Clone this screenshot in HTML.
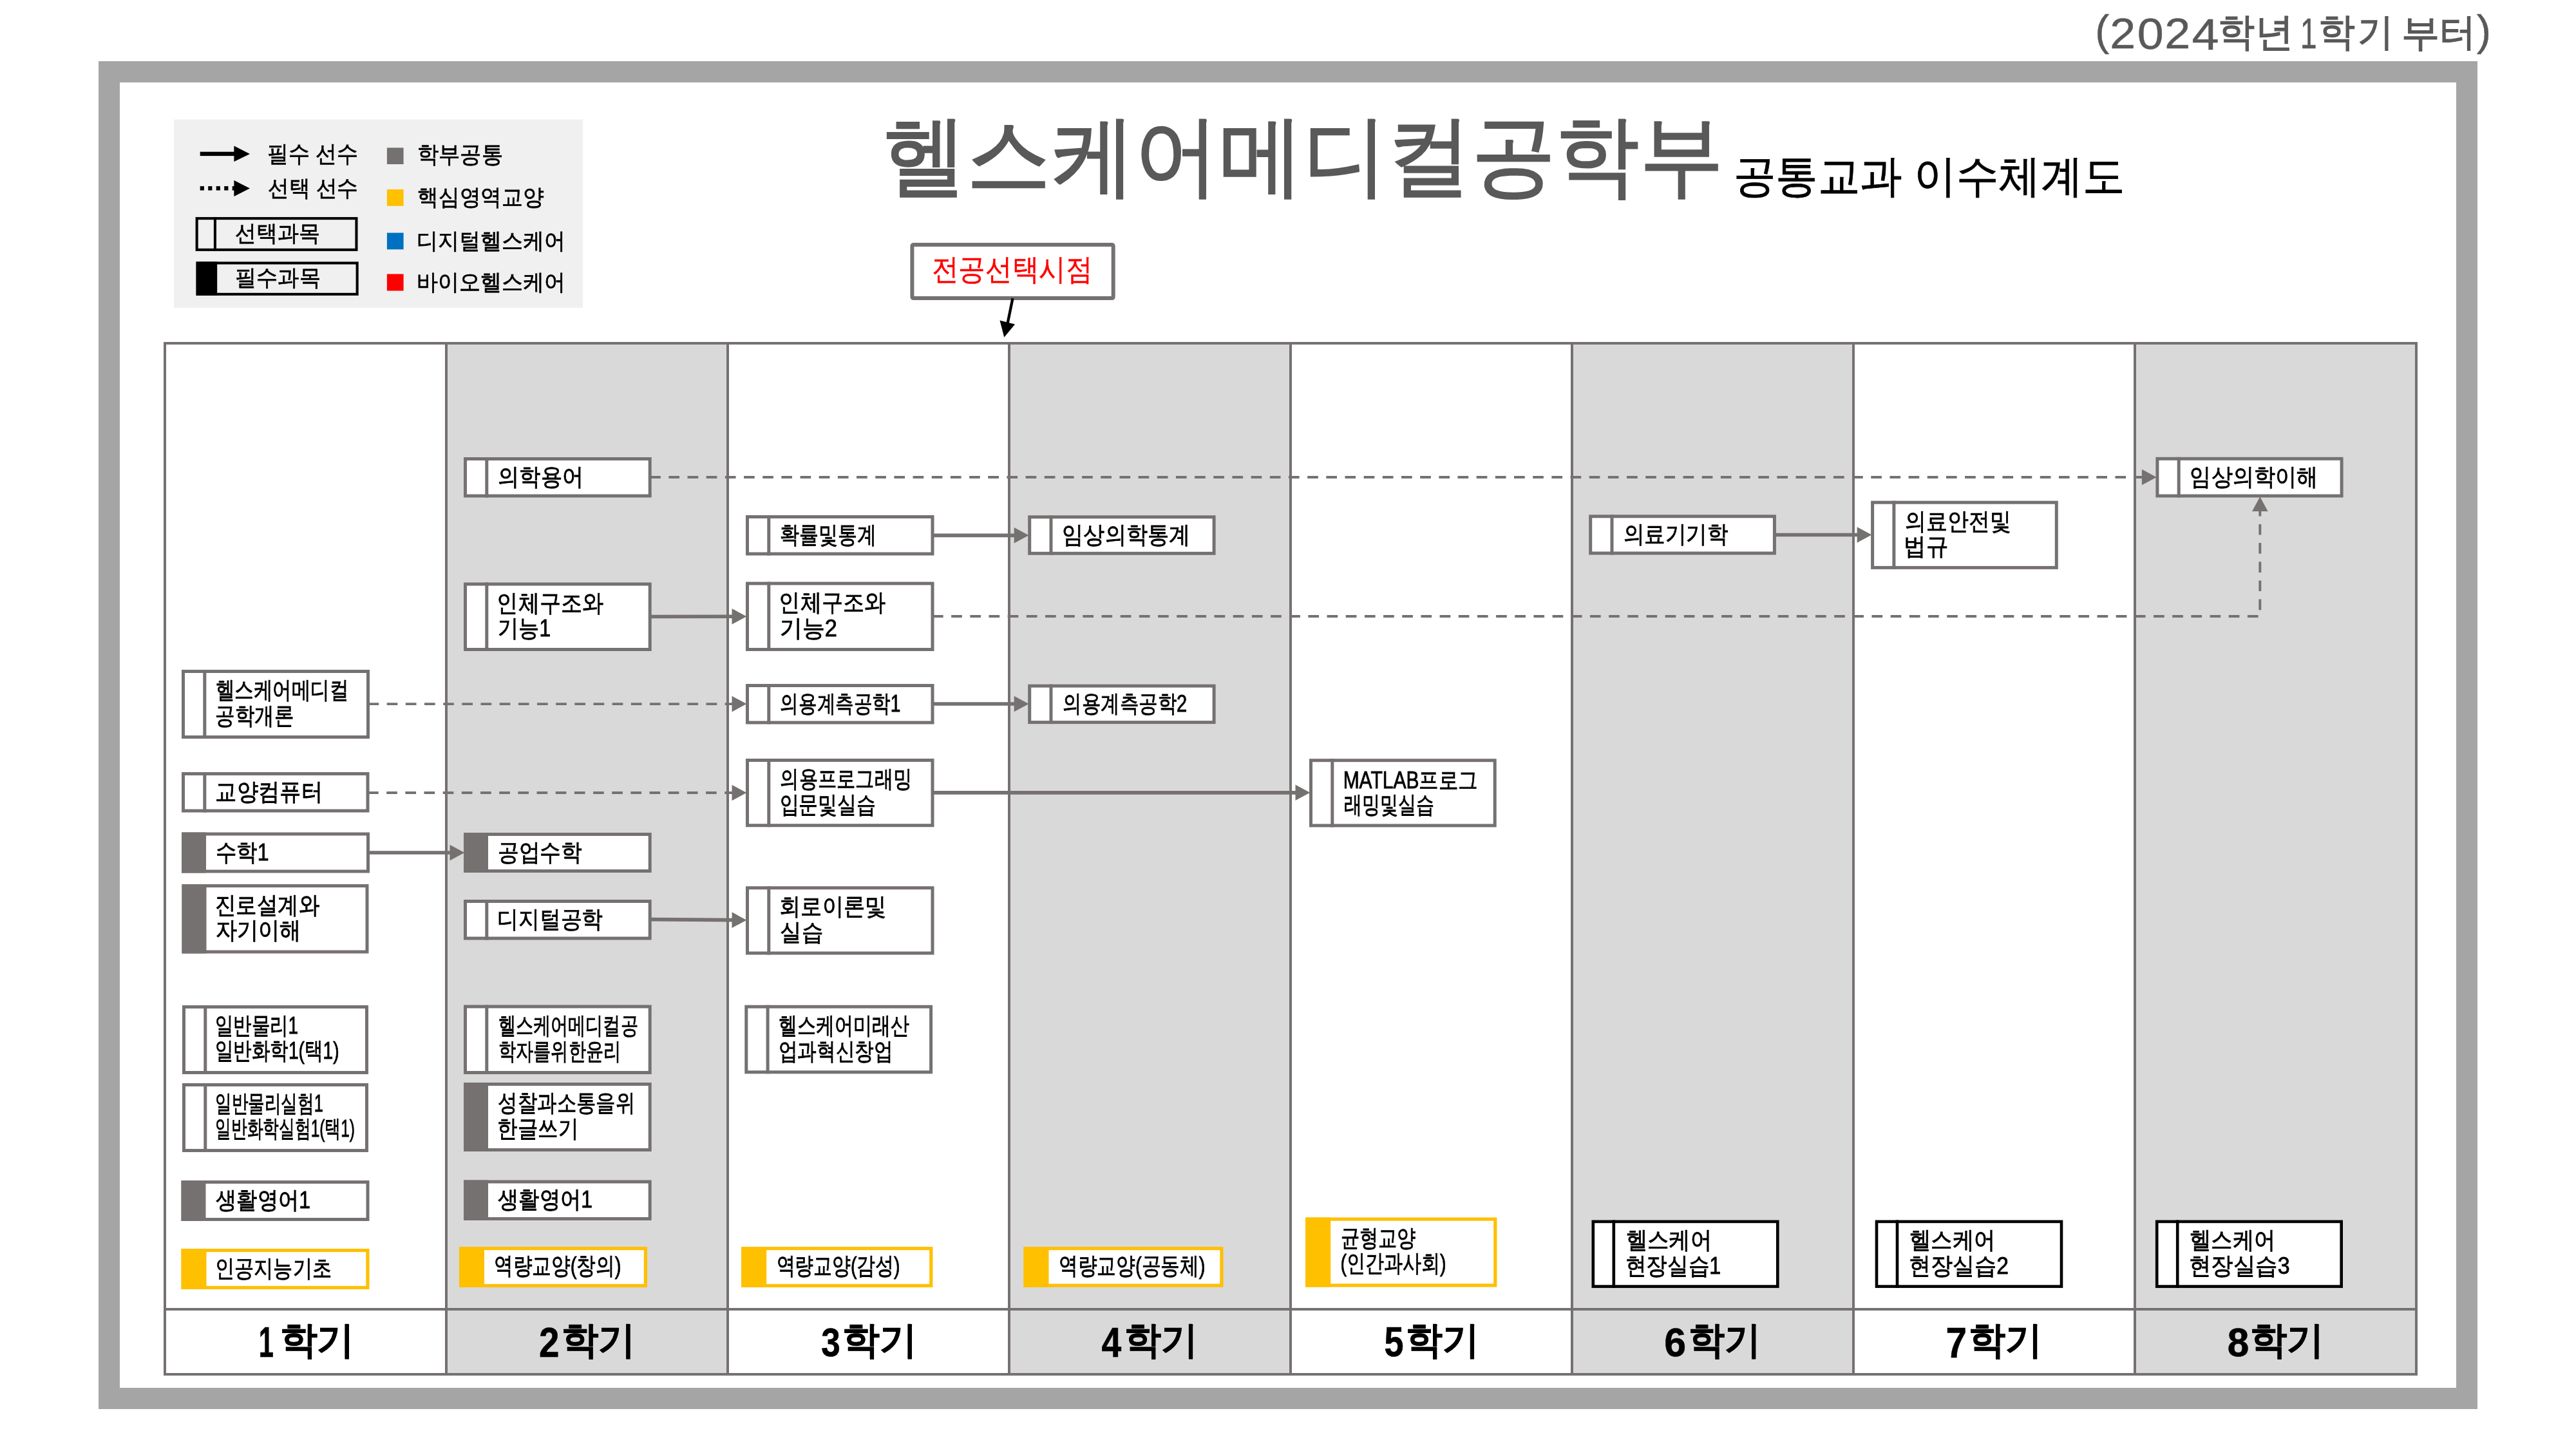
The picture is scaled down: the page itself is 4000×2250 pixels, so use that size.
<!DOCTYPE html><html lang="ko"><head><meta charset="utf-8"><title>헬스케어메디컬공학부 공통교과 이수체계도</title>
<style>html,body{margin:0;padding:0;background:#fff}body{width:4000px;height:2250px;overflow:hidden;font-family:"Liberation Sans",sans-serif}svg{display:block;will-change:transform;font-family:"Liberation Sans",sans-serif}</style></head><body>
<svg width="4000" height="2250" viewBox="0 0 4000 2250">
<path d="M153 95H3847V2188H153Z M186 128V2155H3814V128Z" fill="#a5a5a5" fill-rule="evenodd"/>
<rect x="270" y="185.5" width="635" height="292.5" fill="#f0f0f0"/>
<rect x="693" y="533" width="437" height="1601" fill="#d9d9d9"/>
<rect x="1567" y="533" width="437" height="1601" fill="#d9d9d9"/>
<rect x="2441" y="533" width="437" height="1601" fill="#d9d9d9"/>
<rect x="3315" y="533" width="437" height="1601" fill="#d9d9d9"/>
<rect x="254" y="531" width="4" height="1605" fill="#767171"/>
<rect x="691" y="531" width="4" height="1605" fill="#767171"/>
<rect x="1128" y="531" width="4" height="1605" fill="#767171"/>
<rect x="1565" y="531" width="4" height="1605" fill="#767171"/>
<rect x="2002" y="531" width="4" height="1605" fill="#767171"/>
<rect x="2439" y="531" width="4" height="1605" fill="#767171"/>
<rect x="2876" y="531" width="4" height="1605" fill="#767171"/>
<rect x="3313" y="531" width="4" height="1605" fill="#767171"/>
<rect x="3750" y="531" width="4" height="1605" fill="#767171"/>
<rect x="254" y="531" width="3500" height="4" fill="#767171"/>
<rect x="254" y="2031" width="3500" height="4" fill="#767171"/>
<rect x="254" y="2132" width="3500" height="4" fill="#767171"/>
<path d="M1009.20 741.00 L3327.90 741.00" fill="none" stroke="#767171" stroke-width="3.9" stroke-dasharray="16.67 12.5"/>
<path d="M3348.70 741.00 L3325.90 753.30 L3325.90 728.70Z" fill="#767171"/>
<path d="M1448.00 831.30 L1576.70 831.30" fill="none" stroke="#767171" stroke-width="5.7"/>
<path d="M1597.50 831.30 L1574.70 843.60 L1574.70 819.00Z" fill="#767171"/>
<path d="M1009.20 957.50 L1138.50 957.24" fill="none" stroke="#767171" stroke-width="5.7"/>
<path d="M1159.30 957.20 L1136.52 969.54 L1136.48 944.94Z" fill="#767171"/>
<path d="M1448.00 957.00 L3509.30 957.00 L3509.30 792.00" fill="none" stroke="#767171" stroke-width="3.9" stroke-dasharray="16.67 12.5"/>
<path d="M3509.30 771.20 L3521.60 794.00 L3497.00 794.00Z" fill="#767171"/>
<path d="M571.50 1093.10 L1138.50 1093.10" fill="none" stroke="#767171" stroke-width="3.9" stroke-dasharray="16.67 12.5"/>
<path d="M1159.30 1093.10 L1136.50 1105.40 L1136.50 1080.80Z" fill="#767171"/>
<path d="M1448.00 1093.00 L1576.70 1093.00" fill="none" stroke="#767171" stroke-width="5.7"/>
<path d="M1597.50 1093.00 L1574.70 1105.30 L1574.70 1080.70Z" fill="#767171"/>
<path d="M571.00 1231.00 L1138.50 1231.00" fill="none" stroke="#767171" stroke-width="3.9" stroke-dasharray="16.67 12.5"/>
<path d="M1159.30 1231.00 L1136.50 1243.30 L1136.50 1218.70Z" fill="#767171"/>
<path d="M1448.00 1230.80 L2013.50 1230.80" fill="none" stroke="#767171" stroke-width="5.7"/>
<path d="M2034.30 1230.80 L2011.50 1243.10 L2011.50 1218.50Z" fill="#767171"/>
<path d="M571.50 1324.00 L700.50 1324.00" fill="none" stroke="#767171" stroke-width="5.7"/>
<path d="M721.30 1324.00 L698.50 1336.30 L698.50 1311.70Z" fill="#767171"/>
<path d="M1009.20 1427.70 L1138.50 1428.66" fill="none" stroke="#767171" stroke-width="5.7"/>
<path d="M1159.30 1428.81 L1136.41 1440.94 L1136.59 1416.34Z" fill="#767171"/>
<path d="M2755.40 830.50 L2885.60 830.50" fill="none" stroke="#767171" stroke-width="5.7"/>
<path d="M2906.40 830.50 L2883.60 842.80 L2883.60 818.20Z" fill="#767171"/>
<rect x="284.50" y="1042.50" width="287.00" height="102.00" fill="#fff" stroke="#767171" stroke-width="5"/>
<rect x="315.30" y="1040.00" width="5" height="107.00" fill="#767171"/>
<rect x="284.50" y="1201.50" width="286.50" height="57.50" fill="#fff" stroke="#767171" stroke-width="5"/>
<rect x="315.30" y="1199.00" width="5" height="62.50" fill="#767171"/>
<rect x="284.50" y="1295.00" width="287.00" height="58.00" fill="#fff" stroke="#767171" stroke-width="5"/>
<rect x="282.00" y="1292.50" width="38" height="63.00" fill="#767171"/>
<rect x="285.00" y="1375.50" width="285.00" height="102.50" fill="#fff" stroke="#767171" stroke-width="5"/>
<rect x="282.50" y="1373.00" width="38" height="107.50" fill="#767171"/>
<rect x="285.50" y="1563.50" width="284.00" height="102.00" fill="#fff" stroke="#767171" stroke-width="5"/>
<rect x="316.30" y="1561.00" width="5" height="107.00" fill="#767171"/>
<rect x="285.50" y="1684.50" width="284.00" height="102.00" fill="#fff" stroke="#767171" stroke-width="5"/>
<rect x="316.30" y="1682.00" width="5" height="107.00" fill="#767171"/>
<rect x="284.00" y="1835.50" width="287.00" height="58.00" fill="#fff" stroke="#767171" stroke-width="5"/>
<rect x="281.50" y="1833.00" width="38" height="63.00" fill="#767171"/>
<rect x="284.10" y="1941.60" width="286.80" height="57.80" fill="#fff" stroke="#ffc000" stroke-width="5.2"/>
<rect x="281.50" y="1939.00" width="39" height="63.00" fill="#ffc000"/>
<rect x="722.50" y="712.50" width="286.70" height="57.50" fill="#fff" stroke="#767171" stroke-width="5"/>
<rect x="753.30" y="710.00" width="5" height="62.50" fill="#767171"/>
<rect x="722.50" y="907.00" width="286.70" height="101.50" fill="#fff" stroke="#767171" stroke-width="5"/>
<rect x="753.30" y="904.50" width="5" height="106.50" fill="#767171"/>
<rect x="722.50" y="1295.50" width="286.70" height="57.00" fill="#fff" stroke="#767171" stroke-width="5"/>
<rect x="720.00" y="1293.00" width="38" height="62.00" fill="#767171"/>
<rect x="722.50" y="1399.50" width="286.70" height="57.50" fill="#fff" stroke="#767171" stroke-width="5"/>
<rect x="753.30" y="1397.00" width="5" height="62.50" fill="#767171"/>
<rect x="722.50" y="1563.00" width="286.70" height="102.50" fill="#fff" stroke="#767171" stroke-width="5"/>
<rect x="753.30" y="1560.50" width="5" height="107.50" fill="#767171"/>
<rect x="722.50" y="1683.50" width="286.70" height="102.00" fill="#fff" stroke="#767171" stroke-width="5"/>
<rect x="720.00" y="1681.00" width="38" height="107.00" fill="#767171"/>
<rect x="722.50" y="1835.00" width="286.70" height="57.50" fill="#fff" stroke="#767171" stroke-width="5"/>
<rect x="720.00" y="1832.50" width="38" height="62.50" fill="#767171"/>
<rect x="715.60" y="1938.60" width="286.80" height="57.80" fill="#fff" stroke="#ffc000" stroke-width="5.2"/>
<rect x="713.00" y="1936.00" width="39" height="63.00" fill="#ffc000"/>
<rect x="1160.50" y="802.50" width="287.50" height="57.50" fill="#fff" stroke="#767171" stroke-width="5"/>
<rect x="1191.30" y="800.00" width="5" height="62.50" fill="#767171"/>
<rect x="1160.50" y="906.00" width="287.50" height="102.50" fill="#fff" stroke="#767171" stroke-width="5"/>
<rect x="1191.30" y="903.50" width="5" height="107.50" fill="#767171"/>
<rect x="1160.50" y="1064.50" width="287.50" height="57.50" fill="#fff" stroke="#767171" stroke-width="5"/>
<rect x="1191.30" y="1062.00" width="5" height="62.50" fill="#767171"/>
<rect x="1160.50" y="1180.50" width="287.50" height="101.20" fill="#fff" stroke="#767171" stroke-width="5"/>
<rect x="1191.30" y="1178.00" width="5" height="106.20" fill="#767171"/>
<rect x="1160.50" y="1378.70" width="287.50" height="101.30" fill="#fff" stroke="#767171" stroke-width="5"/>
<rect x="1191.30" y="1376.20" width="5" height="106.30" fill="#767171"/>
<rect x="1158.80" y="1563.20" width="286.80" height="101.60" fill="#fff" stroke="#767171" stroke-width="5"/>
<rect x="1189.60" y="1560.70" width="5" height="106.60" fill="#767171"/>
<rect x="1153.80" y="1938.60" width="292.00" height="57.80" fill="#fff" stroke="#ffc000" stroke-width="5.2"/>
<rect x="1151.20" y="1936.00" width="39" height="63.00" fill="#ffc000"/>
<rect x="1598.70" y="802.80" width="286.40" height="56.50" fill="#fff" stroke="#767171" stroke-width="5"/>
<rect x="1629.50" y="800.30" width="5" height="61.50" fill="#767171"/>
<rect x="1598.70" y="1065.10" width="286.40" height="56.50" fill="#fff" stroke="#767171" stroke-width="5"/>
<rect x="1629.50" y="1062.60" width="5" height="61.50" fill="#767171"/>
<rect x="1592.10" y="1938.60" width="304.80" height="57.50" fill="#fff" stroke="#ffc000" stroke-width="5.2"/>
<rect x="1589.50" y="1936.00" width="39" height="62.70" fill="#ffc000"/>
<rect x="2035.50" y="1180.70" width="285.70" height="101.20" fill="#fff" stroke="#767171" stroke-width="5"/>
<rect x="2066.30" y="1178.20" width="5" height="106.20" fill="#767171"/>
<rect x="2029.80" y="1893.10" width="292.00" height="102.80" fill="#fff" stroke="#ffc000" stroke-width="5.2"/>
<rect x="2027.20" y="1890.50" width="39" height="108.00" fill="#ffc000"/>
<rect x="2469.70" y="801.80" width="285.70" height="57.20" fill="#fff" stroke="#767171" stroke-width="5"/>
<rect x="2500.50" y="799.30" width="5" height="62.20" fill="#767171"/>
<rect x="2473.80" y="1896.90" width="286.50" height="100.70" fill="#fff" stroke="#000" stroke-width="4.6"/>
<rect x="2503.50" y="1894.60" width="4.6" height="105.30" fill="#000"/>
<rect x="2907.60" y="780.20" width="285.70" height="101.20" fill="#fff" stroke="#767171" stroke-width="5"/>
<rect x="2938.40" y="777.70" width="5" height="106.20" fill="#767171"/>
<rect x="2914.00" y="1896.90" width="287.00" height="100.70" fill="#fff" stroke="#000" stroke-width="4.6"/>
<rect x="2943.70" y="1894.60" width="4.6" height="105.30" fill="#000"/>
<rect x="3349.90" y="712.30" width="286.20" height="57.70" fill="#fff" stroke="#767171" stroke-width="5"/>
<rect x="3380.70" y="709.80" width="5" height="62.70" fill="#767171"/>
<rect x="3349.20" y="1896.90" width="286.50" height="100.70" fill="#fff" stroke="#000" stroke-width="4.6"/>
<rect x="3378.90" y="1894.60" width="4.6" height="105.30" fill="#000"/>
<rect x="310.7" y="235.7" width="54" height="6.4" fill="#000"/>
<path d="M388 238.9 L363.4 226.6 L363.4 251.1Z" fill="#000"/>
<rect x="310.70" y="289.1" width="6.2" height="6.5" fill="#000"/>
<rect x="323.20" y="289.1" width="6.2" height="6.5" fill="#000"/>
<rect x="335.70" y="289.1" width="6.2" height="6.5" fill="#000"/>
<rect x="348.20" y="289.1" width="6.2" height="6.5" fill="#000"/>
<rect x="360.70" y="289.1" width="6.2" height="6.5" fill="#000"/>
<path d="M388 292.4 L363.4 280 L363.4 304.9Z" fill="#000"/>
<rect x="305.65" y="339.15" width="247.8" height="48.7" fill="none" stroke="#000" stroke-width="4.1"/>
<rect x="331.9" y="337.1" width="4.1" height="52.8" fill="#000"/>
<rect x="306.65" y="408.45" width="248" height="48.4" fill="none" stroke="#000" stroke-width="4.1"/>
<rect x="304.6" y="406.4" width="32.6" height="52.5" fill="#000"/>
<rect x="600.9" y="229.4" width="25.7" height="25.6" fill="#767171"/>
<rect x="600.9" y="294.1" width="25.7" height="25.7" fill="#ffc000"/>
<rect x="600.9" y="361.5" width="25.7" height="25.8" fill="#0070c0"/>
<rect x="600.9" y="425.5" width="25.7" height="26.0" fill="#ff0000"/>
<rect x="1416.4" y="380.1" width="312.3" height="83" rx="2" fill="#fff" stroke="#767171" stroke-width="6"/>
<path d="M1572.5 463.3 L1564 505" stroke="#000" stroke-width="4.3" fill="none"/>
<path d="M1559.3 523.8 L1552.5 497.4 L1576 503.5Z" fill="#000"/>
<text x="334.5" y="1084.3" font-size="36.5" fill="#000" stroke="#000" stroke-width="0.85" textLength="206.79" lengthAdjust="spacingAndGlyphs">헬스케어메디컬</text>
<text x="334.45" y="1124.1" font-size="36.5" fill="#000" stroke="#000" stroke-width="0.85" textLength="121.89" lengthAdjust="spacingAndGlyphs">공학개론</text>
<text x="334.3" y="1241.95" font-size="36.5" fill="#000" stroke="#000" stroke-width="0.85" textLength="166.6" lengthAdjust="spacingAndGlyphs">교양컴퓨터</text>
<text x="334.75" y="1335.7" font-size="36.5" fill="#000" stroke="#000" stroke-width="0.85" textLength="82.7" lengthAdjust="spacingAndGlyphs">수학1</text>
<text x="333.74" y="1417.55" font-size="36.5" fill="#000" stroke="#000" stroke-width="0.85" textLength="162.66" lengthAdjust="spacingAndGlyphs">진로설계와</text>
<text x="334.6" y="1457.35" font-size="36.5" fill="#000" stroke="#000" stroke-width="0.85" textLength="132.78" lengthAdjust="spacingAndGlyphs">자기이해</text>
<text x="333.8" y="1605.3" font-size="36.5" fill="#000" stroke="#000" stroke-width="0.85" textLength="129.31" lengthAdjust="spacingAndGlyphs">일반물리1</text>
<text x="333.79" y="1643.6" font-size="36.5" fill="#000" stroke="#000" stroke-width="0.85" textLength="192.8" lengthAdjust="spacingAndGlyphs">일반화학1(택1)</text>
<text x="334.02" y="1726.3" font-size="36.5" fill="#000" stroke="#000" stroke-width="0.85" textLength="167.79" lengthAdjust="spacingAndGlyphs">일반물리실험1</text>
<text x="334.09" y="1764.6" font-size="36.5" fill="#000" stroke="#000" stroke-width="0.85" textLength="216.9" lengthAdjust="spacingAndGlyphs">일반화학실험1(택1)</text>
<text x="335.13" y="1876.2" font-size="36.5" fill="#000" stroke="#000" stroke-width="0.85" textLength="146.72" lengthAdjust="spacingAndGlyphs">생활영어1</text>
<text x="334.04" y="1982.2" font-size="36.5" fill="#000" stroke="#000" stroke-width="0.85" textLength="180.79" lengthAdjust="spacingAndGlyphs">인공지능기초</text>
<text x="773.2" y="752.95" font-size="36.5" fill="#000" stroke="#000" stroke-width="0.85" textLength="132.99" lengthAdjust="spacingAndGlyphs">의학용어</text>
<text x="771.42" y="948.55" font-size="36.5" fill="#000" stroke="#000" stroke-width="0.85" textLength="165.68" lengthAdjust="spacingAndGlyphs">인체구조와</text>
<text x="773.26" y="988.35" font-size="36.5" fill="#000" stroke="#000" stroke-width="0.85" textLength="81.88" lengthAdjust="spacingAndGlyphs">기능1</text>
<text x="773.03" y="1335.7" font-size="36.5" fill="#000" stroke="#000" stroke-width="0.85" textLength="130.77" lengthAdjust="spacingAndGlyphs">공업수학</text>
<text x="772.14" y="1439.95" font-size="36.5" fill="#000" stroke="#000" stroke-width="0.85" textLength="164.06" lengthAdjust="spacingAndGlyphs">디지털공학</text>
<text x="773.53" y="1605.05" font-size="36.5" fill="#000" stroke="#000" stroke-width="0.85" textLength="217.24" lengthAdjust="spacingAndGlyphs">헬스케어메디컬공</text>
<text x="773.53" y="1644.85" font-size="36.5" fill="#000" stroke="#000" stroke-width="0.85" textLength="190.76" lengthAdjust="spacingAndGlyphs">학자를위한윤리</text>
<text x="773.36" y="1725.3" font-size="36.5" fill="#000" stroke="#000" stroke-width="0.85" textLength="212.75" lengthAdjust="spacingAndGlyphs">성찰과소통을위</text>
<text x="772.45" y="1765.1" font-size="36.5" fill="#000" stroke="#000" stroke-width="0.85" textLength="125.8" lengthAdjust="spacingAndGlyphs">한글쓰기</text>
<text x="773.13" y="1875.45" font-size="36.5" fill="#000" stroke="#000" stroke-width="0.85" textLength="146.72" lengthAdjust="spacingAndGlyphs">생활영어1</text>
<text x="767.2" y="1977.7" font-size="36.5" fill="#000" stroke="#000" stroke-width="0.85" textLength="197.25" lengthAdjust="spacingAndGlyphs">역량교양(창의)</text>
<text x="1211.38" y="842.95" font-size="36.5" fill="#000" stroke="#000" stroke-width="0.85" textLength="149.87" lengthAdjust="spacingAndGlyphs">확률및통계</text>
<text x="1209.42" y="948.05" font-size="36.5" fill="#000" stroke="#000" stroke-width="0.85" textLength="165.58" lengthAdjust="spacingAndGlyphs">인체구조와</text>
<text x="1211.12" y="987.85" font-size="36.5" fill="#000" stroke="#000" stroke-width="0.85" textLength="88.82" lengthAdjust="spacingAndGlyphs">기능2</text>
<text x="1211.46" y="1104.95" font-size="36.5" fill="#000" stroke="#000" stroke-width="0.85" textLength="186.96" lengthAdjust="spacingAndGlyphs">의용계측공학1</text>
<text x="1211.42" y="1221.9" font-size="36.5" fill="#000" stroke="#000" stroke-width="0.85" textLength="204.84" lengthAdjust="spacingAndGlyphs">의용프로그래밍</text>
<text x="1210.58" y="1261.7" font-size="36.5" fill="#000" stroke="#000" stroke-width="0.85" textLength="149.34" lengthAdjust="spacingAndGlyphs">입문및실습</text>
<text x="1210.31" y="1420.15" font-size="36.5" fill="#000" stroke="#000" stroke-width="0.85" textLength="165.78" lengthAdjust="spacingAndGlyphs">회로이론및</text>
<text x="1211.19" y="1459.95" font-size="36.5" fill="#000" stroke="#000" stroke-width="0.85" textLength="66.92" lengthAdjust="spacingAndGlyphs">실습</text>
<text x="1209.43" y="1604.8" font-size="36.5" fill="#000" stroke="#000" stroke-width="0.85" textLength="202.87" lengthAdjust="spacingAndGlyphs">헬스케어미래산</text>
<text x="1208.6" y="1644.6" font-size="36.5" fill="#000" stroke="#000" stroke-width="0.85" textLength="177.91" lengthAdjust="spacingAndGlyphs">업과혁신창업</text>
<text x="1205.66" y="1977.7" font-size="36.5" fill="#000" stroke="#000" stroke-width="0.85" textLength="191.86" lengthAdjust="spacingAndGlyphs">역량교양(감성)</text>
<text x="1649.31" y="842.75" font-size="36.5" fill="#000" stroke="#000" stroke-width="0.85" textLength="198.76" lengthAdjust="spacingAndGlyphs">임상의학통계</text>
<text x="1650.41" y="1105.05" font-size="36.5" fill="#000" stroke="#000" stroke-width="0.85" textLength="192.84" lengthAdjust="spacingAndGlyphs">의용계측공학2</text>
<text x="1644.09" y="1977.55" font-size="36.5" fill="#000" stroke="#000" stroke-width="0.85" textLength="227.46" lengthAdjust="spacingAndGlyphs">역량교양(공동체)</text>
<text x="2085.63" y="1223.6" font-size="36.5" fill="#000" stroke="#000" stroke-width="0.85" textLength="209.08" lengthAdjust="spacingAndGlyphs">MATLAB프로그</text>
<text x="2086.59" y="1261.9" font-size="36.5" fill="#000" stroke="#000" stroke-width="0.85" textLength="139.93" lengthAdjust="spacingAndGlyphs">래밍및실습</text>
<text x="2081.62" y="1935.3" font-size="36.5" fill="#000" stroke="#000" stroke-width="0.85" textLength="117.08" lengthAdjust="spacingAndGlyphs">균형교양</text>
<text x="2081.43" y="1973.6" font-size="36.5" fill="#000" stroke="#000" stroke-width="0.85" textLength="164.1" lengthAdjust="spacingAndGlyphs">(인간과사회)</text>
<text x="2520.54" y="842.1" font-size="36.5" fill="#000" stroke="#000" stroke-width="0.85" textLength="162.86" lengthAdjust="spacingAndGlyphs">의료기기학</text>
<text x="2524.7" y="1938.05" font-size="36.5" fill="#000" stroke="#000" stroke-width="0.85" textLength="133.51" lengthAdjust="spacingAndGlyphs">헬스케어</text>
<text x="2523.86" y="1977.85" font-size="36.5" fill="#000" stroke="#000" stroke-width="0.85" textLength="148.3" lengthAdjust="spacingAndGlyphs">현장실습1</text>
<text x="2958.12" y="821.6" font-size="36.5" fill="#000" stroke="#000" stroke-width="0.85" textLength="164.25" lengthAdjust="spacingAndGlyphs">의료안전및</text>
<text x="2956.17" y="861.4" font-size="36.5" fill="#000" stroke="#000" stroke-width="0.85" textLength="68.99" lengthAdjust="spacingAndGlyphs">법규</text>
<text x="2964.89" y="1938.05" font-size="36.5" fill="#000" stroke="#000" stroke-width="0.85" textLength="133.62" lengthAdjust="spacingAndGlyphs">헬스케어</text>
<text x="2963.94" y="1977.85" font-size="36.5" fill="#000" stroke="#000" stroke-width="0.85" textLength="155.07" lengthAdjust="spacingAndGlyphs">현장실습2</text>
<text x="3400.41" y="752.85" font-size="36.5" fill="#000" stroke="#000" stroke-width="0.85" textLength="198.87" lengthAdjust="spacingAndGlyphs">임상의학이해</text>
<text x="3400.0" y="1938.05" font-size="36.5" fill="#000" stroke="#000" stroke-width="0.85" textLength="133.51" lengthAdjust="spacingAndGlyphs">헬스케어</text>
<text x="3399.01" y="1977.85" font-size="36.5" fill="#000" stroke="#000" stroke-width="0.85" textLength="156.72" lengthAdjust="spacingAndGlyphs">현장실습3</text>
<text x="1370.27" y="288.57" font-size="137.72" fill="#595959" stroke="#595959" stroke-width="2.2" textLength="1306.48" lengthAdjust="spacingAndGlyphs">헬스케어메디컬공학부</text>
<text x="2691.81" y="297.43" font-size="69.12" fill="#000" stroke="#000" stroke-width="0.8" textLength="607.74" lengthAdjust="spacingAndGlyphs">공통교과 이수체계도</text>
<text x="1446.6" y="434.2" font-size="45.6" fill="#ff0000" stroke="#ff0000" stroke-width="0.4" textLength="249.84" lengthAdjust="spacingAndGlyphs">전공선택시점</text>
<text x="415.02" y="251.41" font-size="35.93" fill="#000" stroke="#000" stroke-width="0.75" textLength="140.99" lengthAdjust="spacingAndGlyphs">필수 선수</text>
<text x="416.02" y="304.25" font-size="34.67" fill="#000" stroke="#000" stroke-width="0.75" textLength="139.98" lengthAdjust="spacingAndGlyphs">선택 선수</text>
<text x="364.91" y="374.43" font-size="34.78" fill="#000" stroke="#000" stroke-width="0.75" textLength="131.66" lengthAdjust="spacingAndGlyphs">선택과목</text>
<text x="365.11" y="443.42" font-size="34.89" fill="#000" stroke="#000" stroke-width="0.75" textLength="132.68" lengthAdjust="spacingAndGlyphs">필수과목</text>
<text x="647.9" y="252.38" font-size="35.76" fill="#000" stroke="#000" stroke-width="0.75" textLength="133.09" lengthAdjust="spacingAndGlyphs">학부공통</text>
<text x="648.26" y="318.23" font-size="35.43" fill="#000" stroke="#000" stroke-width="0.75" textLength="196.26" lengthAdjust="spacingAndGlyphs">핵심영역교양</text>
<text x="647.26" y="385.68" font-size="35.49" fill="#000" stroke="#000" stroke-width="0.75" textLength="230.86" lengthAdjust="spacingAndGlyphs">디지털헬스케어</text>
<text x="647.26" y="449.59" font-size="35.38" fill="#000" stroke="#000" stroke-width="0.75" textLength="230.86" lengthAdjust="spacingAndGlyphs">바이오헬스케어</text>
<text x="3253.24" y="70.08" font-size="67.23" fill="#595959" stroke="#595959" stroke-width="0.4" textLength="21.96" lengthAdjust="spacingAndGlyphs">(</text>
<text x="3276.21" y="75.43" font-size="67.36" fill="#595959" stroke="#595959" stroke-width="0.5" textLength="39.9" lengthAdjust="spacingAndGlyphs">2</text>
<text x="3318.79" y="75.65" font-size="67.67" fill="#595959" stroke="#595959" stroke-width="0.5" textLength="40.98" lengthAdjust="spacingAndGlyphs">0</text>
<text x="3361.3" y="75.43" font-size="67.36" fill="#595959" stroke="#595959" stroke-width="0.5" textLength="40.03" lengthAdjust="spacingAndGlyphs">2</text>
<text x="3403.49" y="77.0" font-size="69.29" fill="#595959" stroke="#595959" stroke-width="0.5" textLength="41.99" lengthAdjust="spacingAndGlyphs">4</text>
<text x="3444.27" y="70.33" font-size="60.43" fill="#595959" stroke="#595959" stroke-width="1.4" textLength="57.2" lengthAdjust="spacingAndGlyphs">학</text>
<text x="3501.94" y="71.11" font-size="60.67" fill="#595959" stroke="#595959" stroke-width="1.4" textLength="59.62" lengthAdjust="spacingAndGlyphs">년</text>
<text x="3571.74" y="75.14" font-size="66.2" fill="#595959" stroke="#595959" stroke-width="0.5" textLength="25.92" lengthAdjust="spacingAndGlyphs">1</text>
<text x="3600.48" y="70.33" font-size="60.43" fill="#595959" stroke="#595959" stroke-width="1.4" textLength="56.99" lengthAdjust="spacingAndGlyphs">학</text>
<text x="3661.16" y="69.61" font-size="58.7" fill="#595959" stroke="#595959" stroke-width="1.4" textLength="55.62" lengthAdjust="spacingAndGlyphs">기</text>
<text x="3729.15" y="70.68" font-size="58.22" fill="#595959" stroke="#595959" stroke-width="1.4" textLength="59.2" lengthAdjust="spacingAndGlyphs">부</text>
<text x="3788.29" y="69.61" font-size="58.7" fill="#595959" stroke="#595959" stroke-width="1.4" textLength="56.41" lengthAdjust="spacingAndGlyphs">터</text>
<text x="3845.8" y="70.08" font-size="67.23" fill="#595959" stroke="#595959" stroke-width="0.4" textLength="22.33" lengthAdjust="spacingAndGlyphs">)</text>
<text x="401.8" y="2106.83" font-size="66.62" font-weight="bold" fill="#000" stroke="#000" stroke-width="0.6" textLength="23.2" lengthAdjust="spacingAndGlyphs">1</text>
<text x="434.5" y="2100.63" font-size="59.26" font-weight="bold" fill="#000" stroke="#000" stroke-width="0.5" textLength="115.82" lengthAdjust="spacingAndGlyphs">학기</text>
<text x="836.9" y="2106.85" font-size="64.58" font-weight="bold" fill="#000" stroke="#000" stroke-width="0.6" textLength="31.45" lengthAdjust="spacingAndGlyphs">2</text>
<text x="871.92" y="2100.63" font-size="59.26" font-weight="bold" fill="#000" stroke="#000" stroke-width="0.5" textLength="115.05" lengthAdjust="spacingAndGlyphs">학기</text>
<text x="1275.24" y="2106.23" font-size="63.7" font-weight="bold" fill="#000" stroke="#000" stroke-width="0.6" textLength="29.56" lengthAdjust="spacingAndGlyphs">3</text>
<text x="1307.9" y="2100.63" font-size="59.26" font-weight="bold" fill="#000" stroke="#000" stroke-width="0.5" textLength="115.82" lengthAdjust="spacingAndGlyphs">학기</text>
<text x="1710.45" y="2106.85" font-size="65.49" font-weight="bold" fill="#000" stroke="#000" stroke-width="0.6" textLength="30.75" lengthAdjust="spacingAndGlyphs">4</text>
<text x="1746.15" y="2100.63" font-size="59.26" font-weight="bold" fill="#000" stroke="#000" stroke-width="0.5" textLength="114.07" lengthAdjust="spacingAndGlyphs">학기</text>
<text x="2149.48" y="2106.21" font-size="64.58" font-weight="bold" fill="#000" stroke="#000" stroke-width="0.6" textLength="30.04" lengthAdjust="spacingAndGlyphs">5</text>
<text x="2183.05" y="2100.63" font-size="59.26" font-weight="bold" fill="#000" stroke="#000" stroke-width="0.5" textLength="113.85" lengthAdjust="spacingAndGlyphs">학기</text>
<text x="2584.18" y="2106.23" font-size="63.7" font-weight="bold" fill="#000" stroke="#000" stroke-width="0.6" textLength="33.82" lengthAdjust="spacingAndGlyphs">6</text>
<text x="2622.1" y="2100.63" font-size="59.26" font-weight="bold" fill="#000" stroke="#000" stroke-width="0.5" textLength="112.09" lengthAdjust="spacingAndGlyphs">학기</text>
<text x="3021.56" y="2107.5" font-size="66.43" font-weight="bold" fill="#000" stroke="#000" stroke-width="0.6" textLength="32.56" lengthAdjust="spacingAndGlyphs">7</text>
<text x="3057.35" y="2100.63" font-size="59.26" font-weight="bold" fill="#000" stroke="#000" stroke-width="0.5" textLength="114.18" lengthAdjust="spacingAndGlyphs">학기</text>
<text x="3458.79" y="2106.23" font-size="63.7" font-weight="bold" fill="#000" stroke="#000" stroke-width="0.6" textLength="33.49" lengthAdjust="spacingAndGlyphs">8</text>
<text x="3494.03" y="2100.63" font-size="59.26" font-weight="bold" fill="#000" stroke="#000" stroke-width="0.5" textLength="114.84" lengthAdjust="spacingAndGlyphs">학기</text>
</svg></body></html>
